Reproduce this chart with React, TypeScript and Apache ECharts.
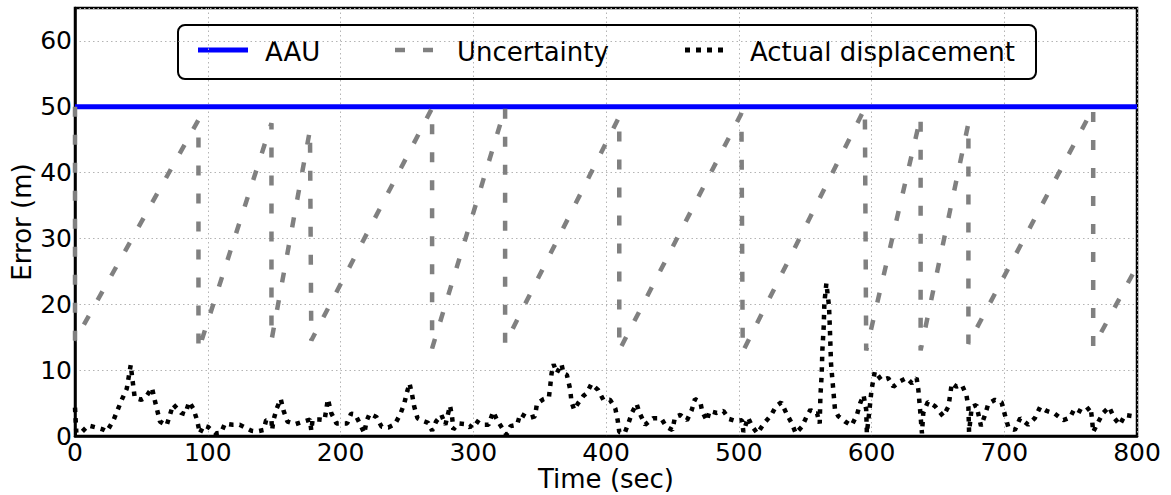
import React, { useEffect, useRef } from "react";
import * as echarts from "echarts";

const xTicks = [0, 100, 200, 300, 400, 500, 600, 700, 800];
const yMax = 65;

const aau: number[][] = [
  [0, 50],
  [800, 50],
];

const uncertainty: number[][] = [
  [0, 50], [0, 14.5], [93, 48], [93, 13], [148, 47.5], [148, 14.5],
  [177, 46.5], [178, 14.5], [269, 49.8], [269, 13.3], [324, 49.8], [324, 14],
  [410, 48.5], [410, 13], [502, 49], [503, 12.8], [595, 49.8], [596, 13],
  [637, 48.5], [637, 13], [673, 47.5], [673, 14], [767, 49.8], [767, 13.5],
  [800, 25.8],
];

const actualDisplacement: number[][] = [
  [0, 4.3], [1, 0.5], [5, 0.6], [10, 1.6], [16, 1.3], [21, 1.0], [24, 0.7],
  [29, 2.4], [35, 5.4], [39, 7.2], [42, 10.8], [43, 9.0], [45, 5.8], [50, 5.5],
  [53, 5.8], [58, 7.3], [60, 5.5], [64, 2.2], [69, 1.6], [74, 4.8], [80, 3.5],
  [83, 3.3], [86, 5.2], [89, 4.2], [92, 2.4], [94, 0.4], [97, 1.6], [100, 1.4],
  [106, 0.4], [110, 0.5], [113, 1.9], [119, 1.7], [124, 1.7], [129, 1.2],
  [133, 0.8], [137, 0.7], [142, 0.9], [144, 2.4], [148, 2.4], [148.5, 0.9],
  [149.5, 2.4], [152, 4.2], [155, 5.6], [157, 3.9], [160, 2.2], [166, 1.8],
  [172, 2.2], [177, 2.5], [178, 0.8], [179, 2.5], [184, 2.5], [188, 2.4],
  [190.5, 5.6], [193, 3.5], [197, 1.9], [205, 1.9], [208, 3.4], [211, 3.3],
  [215, 1.7], [218, 0.4], [219.5, 2.2], [222, 3.4], [227, 2.9], [231, 1.4],
  [236, 1.3], [241, 1.8], [245, 3.3], [248, 4.9], [250, 6.6], [252, 8.0],
  [254, 6.2], [255.5, 4.5], [258, 2.7], [262, 2.3], [266, 2.0], [269, 0.8],
  [272, 2.2], [276, 3.2], [279, 1.7], [282.5, 4.6], [284, 3.0], [285, 1.0],
  [289, 1.9], [294, 1.8], [297.5, 1.3], [301.5, 2.4], [306.5, 1.7], [311.5, 1.7],
  [315, 3.7], [318, 2.4], [321.5, 1.3], [325, 0.2], [328, 1.5], [333, 1.7],
  [335.5, 3.4], [341.5, 2.7], [346.5, 3.0], [348, 4.9], [353, 5.6], [357, 5.9],
  [358, 7.6], [359, 9.5], [360.5, 10.9], [363, 9.6], [366.5, 10.9], [368, 9.5],
  [370.5, 9.3], [373, 7.1], [374, 5.2], [376, 4.0], [379, 5.0], [383, 6.1],
  [385.5, 6.5], [389, 7.9], [394, 7.0], [398, 5.5], [403, 5.5], [407, 4.2],
  [408.8, 2.4], [410, 0.6], [414, 0.4], [417, 2.0], [419.5, 3.5], [423, 4.9],
  [425.5, 3.4], [429.5, 1.7], [435.5, 2.7], [441.5, 2.7], [445.5, 1.4],
  [450, 0.9], [452, 2.9], [456, 3.2], [461, 2.4], [464.5, 3.9], [467, 5.6],
  [471, 5.2], [472.5, 3.7], [476, 2.3], [478, 3.8], [483.5, 3.5], [488.5, 3.8],
  [492.5, 2.6], [497.5, 2.3], [502.5, 2.4], [503.5, 0.6], [507, 2.8], [510, 1.5],
  [514, 0.4], [519, 1.9], [524.5, 3.2], [528, 4.5], [532, 5.1], [536, 3.4],
  [540, 1.9], [543, 0.4], [547.5, 1.4], [551, 2.9], [554, 4.0], [556.5, 3.4],
  [559, 3.4], [561, 1.9], [561.5, 6.0], [562.5, 9.5], [563, 13.1], [564, 16.6],
  [564.5, 20.2], [566, 23.2], [568, 19.7], [568.7, 16], [569.5, 11], [571, 7.5],
  [572.5, 4.0], [575, 3.0], [580, 2.2], [585, 1.6], [589, 3.2], [591.5, 5.0],
  [594, 6.2], [596, 4.0], [596.5, 0.4], [598.5, 4.0], [600, 7.0], [602.5, 9.8],
  [607.5, 8.5], [612.5, 8.8], [616.5, 7.5], [621.5, 8.3], [626.5, 8.8],
  [630.5, 8.0], [634, 8.8], [635.3, 7.0], [636.6, 4.0], [638, 0.4], [639, 3.5],
  [642.5, 5.2], [648, 4.5], [654, 3.0], [658, 4.5], [660.5, 8.0], [664, 7.5],
  [668, 7.8], [671.5, 6.2], [673, 4.4], [673.5, 0.6], [675.5, 4.4], [679, 4.7],
  [682.5, 1.5], [685.5, 3.2], [688, 4.9], [693, 5.5], [698, 5.1], [700.5, 3.2],
  [703, 1.4], [708, 0.9], [712, 2.7], [718, 1.7], [723, 2.7], [727, 4.4],
  [732, 3.8], [738, 3.4], [744.5, 2.4], [749.5, 2.8], [753, 4.2], [759.5, 3.5],
  [765, 4.4], [766, 2.8], [767, 0.6], [771, 2.2], [774.5, 3.5], [779, 4.4],
  [783, 2.7], [787, 1.7], [791, 3.2], [797.5, 3.0], [800, 2.9],
];

const FONT = "DejaVu Sans";

export default function App() {
  const ref = useRef<HTMLDivElement>(null);

  useEffect(() => {
    if (!ref.current) return;
    const chart = echarts.init(ref.current, undefined, { renderer: "svg" });
    const gridLine = { show: true, lineStyle: { color: "#b4b4b4", width: 1, type: [1.5, 3] as any } };
    chart.setOption({
      animation: false,
      backgroundColor: "#ffffff",
      grid: {
        left: 75,
        top: 8,
        width: 1062,
        height: 428,
        show: true,
        borderColor: "#000",
        borderWidth: 2.5,
        backgroundColor: "transparent",
        outerBoundsMode: "none",
        containLabel: false,
      },
      xAxis: {
        type: "value",
        min: xTicks[0],
        max: xTicks[xTicks.length - 1],
        interval: 100,
        name: "Time (sec)",
        nameLocation: "middle",
        nameGap: 30,
        nameMoveOverlap: false,
        nameTextStyle: { fontSize: 26, fontFamily: FONT, color: "#000" },
        axisLine: { show: true, lineStyle: { color: "#000", width: 2.5 } },
        axisTick: { show: false },
        axisLabel: { fontSize: 25, fontFamily: FONT, color: "#000", margin: 4 },
        splitLine: gridLine,
      },
      yAxis: {
        type: "value",
        min: 0,
        max: yMax,
        interval: 10,
        name: "Error (m)",
        nameLocation: "middle",
        nameGap: 40,
        nameMoveOverlap: false,
        nameTextStyle: { fontSize: 26, fontFamily: FONT, color: "#000" },
        axisLine: { show: true, lineStyle: { color: "#000", width: 2.5 } },
        axisTick: { show: false },
        axisLabel: {
          fontSize: 25,
          fontFamily: FONT,
          color: "#000",
          margin: 3,
          showMaxLabel: false,
          formatter: (v: number) => (v === yMax ? "" : String(v)),
        },
        splitLine: gridLine,
      },
      series: [
        {
          name: "AAU",
          type: "line",
          data: aau,
          symbol: "none",
          silent: true,
          z: 3,
          lineStyle: { color: "#0000ff", width: 5 },
        },
        {
          name: "Uncertainty",
          type: "line",
          data: uncertainty,
          symbol: "none",
          silent: true,
          z: 4,
          lineStyle: { color: "#808080", width: 4.5, type: [10, 18], cap: "butt" },
        },
        {
          name: "Actual displacement",
          type: "line",
          data: actualDisplacement,
          symbol: "none",
          silent: true,
          z: 5,
          lineStyle: { color: "#000000", width: 4.5, type: [4.5, 6], cap: "butt" },
        },
      ],
      graphic: [
        {
          type: "group",
          z: 100,
          children: [
            {
              type: "rect",
              shape: { x: 178, y: 25, width: 858, height: 54, r: 7 },
              style: { fill: "#ffffff", stroke: "#000000", lineWidth: 2 },
            },
            {
              type: "line",
              shape: { x1: 198, y1: 50, x2: 248, y2: 50 },
              style: { stroke: "#0000ff", lineWidth: 5 },
            },
            {
              type: "text",
              x: 265,
              y: 52,
              style: { text: "AAU", fontSize: 26, fontFamily: FONT, fill: "#000", verticalAlign: "middle" },
            },
            {
              type: "line",
              shape: { x1: 395, y1: 50, x2: 433, y2: 50 },
              style: { stroke: "#808080", lineWidth: 4.5, lineDash: [10, 18] },
            },
            {
              type: "text",
              x: 457,
              y: 52,
              style: { text: "Uncertainty", fontSize: 26, fontFamily: FONT, fill: "#000", verticalAlign: "middle" },
            },
            {
              type: "line",
              shape: { x1: 685, y1: 50, x2: 726, y2: 50 },
              style: { stroke: "#000000", lineWidth: 5, lineDash: [5, 6] },
            },
            {
              type: "text",
              x: 750,
              y: 52,
              style: {
                text: "Actual displacement",
                fontSize: 26,
                fontFamily: FONT,
                fill: "#000",
                verticalAlign: "middle",
              },
            },
          ],
        },
      ],
    });
    return () => chart.dispose();
  }, []);

  return (
    <div
      ref={ref}
      style={{ position: "absolute", left: 0, top: 0, width: 1171, height: 495, background: "#fff" }}
    />
  );
}
